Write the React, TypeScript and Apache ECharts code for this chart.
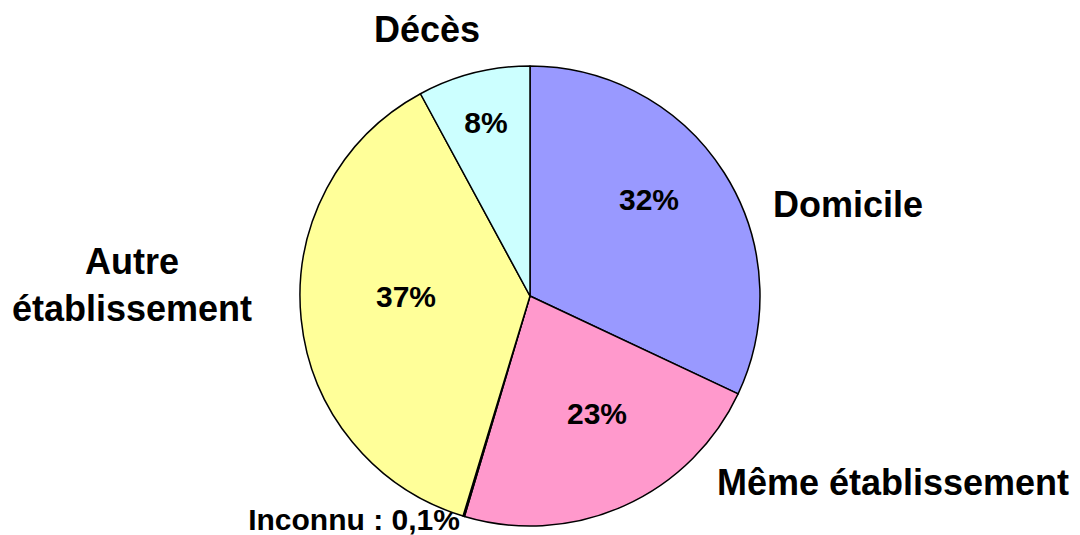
import React, { useEffect, useRef } from "react";
import * as echarts from "echarts";

const categories = ["Domicile", "Même établissement", "Inconnu", "Autre établissement", "Décès"];
const values = [32.0, 22.6, 0.1, 37.4, 7.9];
const outerLabels = ["Domicile", "Même établissement", "Inconnu : 0,1%", "Autre\nétablissement", "Décès"];
const colors = ["#9999FF", "#FF99CC", "#FFFFFF", "#FFFF99", "#CCFFFF"];

const innerPositions: ([number, number] | null)[] = [[649, 199], [597, 413], null, [406, 296], [486, 122]];
const outerPositions: { x: number; y: number; align: string; size: number }[] = [
  { x: 848, y: 204, align: "center", size: 36 },
  { x: 893, y: 482, align: "center", size: 36 },
  { x: 354, y: 519, align: "center", size: 30 },
  { x: 132, y: 285, align: "center", size: 36 },
  { x: 427, y: 29, align: "center", size: 36 },
];

const FONT = "Arial, 'Liberation Sans', sans-serif";

export default function App() {
  const ref = useRef<HTMLDivElement>(null);
  useEffect(() => {
    document.body.style.margin = "0";
    const chart = echarts.init(ref.current!, null, { renderer: "svg" });
    const data = categories.map((c, i) => ({
      name: c,
      value: values[i],
      itemStyle: { color: colors[i] },
      label: { show: innerPositions[i] !== null },
    }));
    const data2 = categories.map((c, i) => ({
      name: c,
      value: values[i],
      label: { fontSize: outerPositions[i].size, align: outerPositions[i].align },
    }));
    chart.setOption({
      animation: false,
      backgroundColor: "#ffffff",
      series: [
        {
          type: "pie",
          center: [530, 296],
          radius: 230,
          startAngle: 90,
          clockwise: true,
          silent: true,
          z: 1,
          data: data2,
          itemStyle: { color: "rgba(0,0,0,0)", borderWidth: 0 },
          label: {
            show: true,
            position: "outside",
            fontFamily: FONT,
            fontWeight: "bold",
            color: "#000",
            lineHeight: 47,
            formatter: (p: any) => outerLabels[p.dataIndex],
          },
          labelLine: { show: false },
          labelLayout: (p: any) => {
            const o = outerPositions[p.dataIndex];
            return { x: o.x, y: o.y, align: o.align, verticalAlign: "middle" };
          },
        },
        {
          type: "pie",
          center: [530, 296],
          radius: 230,
          startAngle: 90,
          clockwise: true,
          silent: true,
          z: 2,
          data,
          itemStyle: { borderColor: "#000", borderWidth: 1.5 },
          label: {
            position: "inside",
            fontFamily: FONT,
            fontWeight: "bold",
            fontSize: 30,
            color: "#000",
            formatter: (p: any) => Math.round(p.percent) + "%",
          },
          labelLine: { show: false },
          labelLayout: (p: any) => {
            const pos = innerPositions[p.dataIndex];
            if (!pos) return {};
            return { x: pos[0], y: pos[1], align: "center", verticalAlign: "middle" };
          },
        },
      ],
    });
    return () => chart.dispose();
  }, []);
  return <div ref={ref} style={{ width: 1080, height: 535 }} />;
}
